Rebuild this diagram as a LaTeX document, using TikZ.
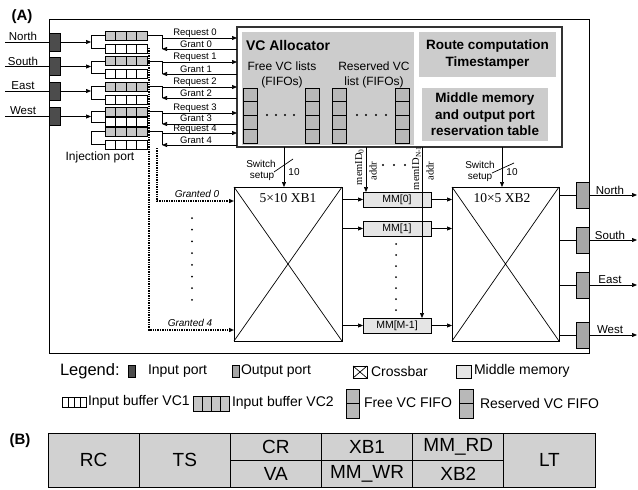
\documentclass[tikz,border=0pt]{standalone}
\usepackage{fontspec}
\setmainfont{Liberation Sans}
\newfontfamily\serifrm{Liberation Serif}
\usetikzlibrary{arrows.meta,calc}
\newcommand{\fsz}[1]{\fontsize{#1pt}{#1pt}\selectfont}
\newcommand{\mkvdiv}[2]{\pgfmathtruncatemacro{\nmk}{#2-1}\foreach \k in {1,...,\nmk}{\draw ($(#1.north west)!\k/#2!(#1.north east)$) -- ($(#1.south west)!\k/#2!(#1.south east)$);}}
\newcommand{\mkhdiv}[2]{\pgfmathtruncatemacro{\nmk}{#2-1}\foreach \k in {1,...,\nmk}{\draw ($(#1.north west)!\k/#2!(#1.south west)$) -- ($(#1.north east)!\k/#2!(#1.south east)$);}}
\begin{document}
\begin{tikzpicture}[x=1pt,y=-1pt,line width=0.7pt,
  every node/.style={inner sep=0pt,outer sep=0pt},
  bx/.style={draw, anchor=north west},
  inport/.style={bx, fill=black!70, minimum width=11pt, minimum height=18pt},
  outport/.style={bx, fill=black!35, minimum width=13pt, minimum height=26pt},
  bufw/.style={bx, fill=white, minimum width=42pt, minimum height=9pt},
  bufg/.style={bufw, fill=black!22},
  fifo/.style={bx, fill=black!28, minimum width=14pt, minimum height=55pt},
  mmb/.style={bx, fill=black!10, minimum width=68pt, minimum height=15pt, font=\fsz{10.5}},
  xbar/.style={bx, minimum width=108pt, minimum height=154pt},
  graybox/.style={bx, draw=none, fill=black!20},
  arr/.style={-{Triangle[length=5pt,width=4pt]}},
  dotarr/.style={arr, dash pattern=on 1.4pt off 1pt, line width=1.3pt},
  lbl/.style={font=\fsz{9.5}},
  leg/.style={anchor=west, font=\fsz{14}},
  tcell/.style={bx, fill=black!18, font=\fsz{19}, minimum width=91.2pt}]
\useasboundingbox (0,0) rectangle (638,490);

% ---------- (A) ----------
\node[font=\fsz{15}\bfseries] (lA) at (22,17) {(A)};
\node[bx, line width=1pt, minimum width=540pt, minimum height=334pt] (outer) at (49,19) {};

% input ports
\foreach \n/\t/\y/\ty in {N/North/42/36, S/South/66.5/61, E/East/91/86, W/West/116.5/111}{
  \coordinate (src\n) at (5,\y);
  \coordinate (fk\n) at (91,\y);
  \draw (src\n) -- (49,\y);
  \node[inport] (in\n) at (49,\y-9) {};
  \draw[arr] (in\n.east) -- (fk\n);
  \node[font=\fsz{11.5}] (lab\n) at (23,\ty) {\t};
}

% inner box (allocators)
\node[bx, line width=1.3pt, draw=black!80, minimum width=325pt, minimum height=120pt] (inner) at (237,27) {};
\node[graybox, minimum width=172pt, minimum height=113pt] (vca) at (242,32) {};
\node[font=\fsz{14}\bfseries, anchor=west] (vcat) at (246,45) {VC Allocator};
\node[font=\fsz{12}] (fv1) at (282,66) {Free VC lists};
\node[font=\fsz{12}] (fv2) at (282,82) {(FIFOs)};
\node[font=\fsz{12}] (rv1) at (374,66) {Reserved VC};
\node[font=\fsz{12}] (rv2) at (374,82) {list (FIFOs)};
\foreach \i/\x in {1/243, 2/305, 3/332, 4/395}{
  \node[fifo] (ff\i) at (\x,88) {};
  \mkhdiv{ff\i}{4}
}
\foreach \x in {267,276,285,294,357,366,376,386} \fill (\x,115) circle (1.1pt);
\node[graybox, minimum width=137pt, minimum height=45pt, align=center,
  font=\fontsize{13.5pt}{17pt}\selectfont\bfseries] (rct) at (419,32) {Route computation\\Timestamper};
\node[graybox, minimum width=126pt, minimum height=53pt, align=center,
  font=\fontsize{13.5pt}{16.5pt}\selectfont\bfseries] (mmt) at (422,88) {Middle memory\\and output port\\reservation table};

% input buffers, forks, requests, grants
\foreach \i/\g/\w/\r/\gr/\rly/\gly in {0/31/44/38/49/33/44, 1/56.5/69/62/74/57/69, 2/82/95/87/98/82/93, 3/107/117.5/113/124/108/118.5, 4/127/140/133/145/129/140}{
  \node[bufg] (g\i) at (105,\g) {};
  \mkvdiv{g\i}{4}
  \node[bufw] (w\i) at (105,\w) {};
  \mkvdiv{w\i}{4}
  \draw (g\i.west) -- ++(-14,0) |- (w\i.west);
  \draw (g\i.east) -| (162,\gr);
  \coordinate (rq\i) at (162,\r);
  \coordinate (gt\i) at (162,\gr);
  \draw[arr] (rq\i) -- (inner.west |- rq\i);
  \draw[arr] (inner.west |- gt\i) -- (gt\i);
  \node[lbl] (rl\i) at (195,\rly) {Request \i};
  \node[lbl] (gl\i) at (196,\gly) {Grant \i};
}
\node[font=\fsz{12}] (inj) at (100,157) {Injection port};

% crossbars
\node[xbar] (xb1) at (234,187) {};
\draw (xb1.north west) -- (xb1.south east) (xb1.north east) -- (xb1.south west);
\node[font=\serifrm\fsz{13.5}] (xb1l) at (288,198) {5×10 XB1};
\node[xbar, minimum width=107pt] (xb2) at (452,187) {};
\draw (xb2.north west) -- (xb2.south east) (xb2.north east) -- (xb2.south west);
\node[font=\serifrm\fsz{13.5}] (xb2l) at (502,198) {10×5 XB2};

% injection (granted) paths
\coordinate (ja) at (149,48);
\coordinate (jb) at (157,148);
\draw[dotarr] (ja) |- (xb1.west |- 0,330);
\draw[dotarr] (jb) |- (xb1.west |- 0,201);
\node[font=\fsz{10}\itshape] (gd0) at (197,194) {Granted 0};
\node[font=\fsz{10}\itshape] (gd4) at (190,323) {Granted 4};
\foreach \k in {0,...,7} \fill (192,218+\k*11.7) circle (1pt);

% switch setup
\coordinate (sw1) at (284,147);
\draw[arr] (sw1) -- (sw1 |- xb1.north);
\draw (274,172) -- (293,159);
\node[font=\fsz{10}] (sw1a) at (261,164) {Switch};
\node[font=\fsz{10}] (sw1b) at (262,176) {setup};
\node[font=\fsz{10}] (sw1c) at (294,172) {10};
\coordinate (sw2) at (502,147);
\draw[arr] (sw2) -- (sw2 |- xb2.north);
\draw (492,173) -- (514,163);
\node[font=\fsz{10}] (sw2a) at (480,165) {Switch};
\node[font=\fsz{10}] (sw2b) at (480,177) {setup};
\node[font=\fsz{10}] (sw2c) at (512,172) {10};

% middle memories
\node[mmb] (mm0) at (363,192) {MM[0]};
\node[mmb] (mm1) at (363,221) {MM[1]};
\node[mmb] (mmL) at (363,318) {MM[M-1]};
\foreach \m in {mm0,mm1,mmL}{
  \draw[arr] (xb1.east |- \m.west) -- (\m.west);
  \draw[arr] (\m.east) -- (xb2.west |- \m.east);
}
\foreach \k in {0,...,6} \fill (396,244+\k*11) circle (1pt);
\coordinate (ma0) at (366,147);
\coordinate (ma1) at (422,147);
\draw[arr] (ma0) -- (ma0 |- mm0.north);
\draw[arr] (ma1) -- (ma1 |- mmL.north);
\node[rotate=90, font=\serifrm\fsz{10.5}] (mid0) at (359.5,167) {memID\textsubscript{0}};
\node[rotate=90, font=\serifrm\fsz{10.5}] (ad0) at (373,171) {addr};
\node[rotate=90, font=\serifrm\fsz{10.5}] (mid1) at (416.5,168) {memID\textsubscript{N-1}};
\node[rotate=90, font=\serifrm\fsz{10.5}] (ad1) at (430,171) {addr};
\foreach \x in {383,394,405} \fill (\x,165) circle (1.1pt);

% output ports
\foreach \n/\t/\y in {N/North/195, S/South/240, E/East/285, W/West/335}{
  \node[outport] (out\n) at (576,\y-13) {};
  \draw (xb2.east |- out\n.west) -- (out\n.west);
  \coordinate (dst\n) at (637,\y);
  \draw[arr] (out\n.east) -- (dst\n);
  \node[font=\fsz{11.5}] (ol\n) at (610,\y-5) {\t};
}

% ---------- legend ----------
\node[anchor=west, font=\fsz{16.5}] (leg) at (60,371) {Legend:};
\node[bx, fill=black!70, minimum width=7pt, minimum height=12pt] (lgin) at (128,365) {};
\node[leg] (lgint) at (148,371) {Input port};
\node[bx, fill=black!35, minimum width=7pt, minimum height=12pt] (lgout) at (232,365) {};
\node[leg] (lgoutt) at (241,371) {Output port};
\node[bx, minimum width=14pt, minimum height=12pt] (lgxb) at (353,366) {};
\draw (lgxb.north west) -- (lgxb.south east) (lgxb.north east) -- (lgxb.south west);
\node[leg] (lgxbt) at (371,371) {Crossbar};
\node[bx, fill=black!10, minimum width=15pt, minimum height=13pt] (lgmm) at (456,365) {};
\node[leg] (lgmmt) at (474,371) {Middle memory};
\node[bx, minimum width=24pt, minimum height=10pt] (lgv1) at (62,397) {};
\mkvdiv{lgv1}{4}
\node[leg] (lgv1t) at (88,402) {Input buffer VC1};
\node[bx, fill=black!22, minimum width=36pt, minimum height=15pt] (lgv2) at (193,396) {};
\mkvdiv{lgv2}{4}
\node[leg] (lgv2t) at (232,403) {Input buffer VC2};
\node[bx, fill=black!28, minimum width=13pt, minimum height=29pt] (lgf) at (346,389) {};
\mkhdiv{lgf}{2}
\node[leg] (lgft) at (364,403) {Free VC FIFO};
\node[bx, fill=black!28, minimum width=14pt, minimum height=29pt] (lgr) at (459,389) {};
\mkhdiv{lgr}{2}
\node[leg] (lgrt) at (480,403) {Reserved VC FIFO};

% ---------- (B) ----------
\node[font=\fsz{15}\bfseries] (lB) at (20,441) {(B)};
\node[tcell, minimum height=54pt] (tRC) at (48,433) {RC};
\node[tcell, minimum height=54pt] (tTS) at (139.2,433) {TS};
\node[tcell, minimum height=27pt] (tCR) at (230.3,433) {CR};
\node[tcell, minimum height=27pt] (tVA) at (230.3,460) {VA};
\node[tcell, minimum height=27pt] (tX1) at (321.5,433) {XB1};
\node[tcell, minimum height=27pt] (tMW) at (321.5,460) {MM\_WR};
\node[tcell, minimum height=27pt] (tMR) at (412.7,433) {MM\_RD};
\node[tcell, minimum height=27pt] (tX2) at (412.7,460) {XB2};
\node[tcell, minimum height=54pt] (tLT) at (503.8,433) {LT};
\end{tikzpicture}
\end{document}
